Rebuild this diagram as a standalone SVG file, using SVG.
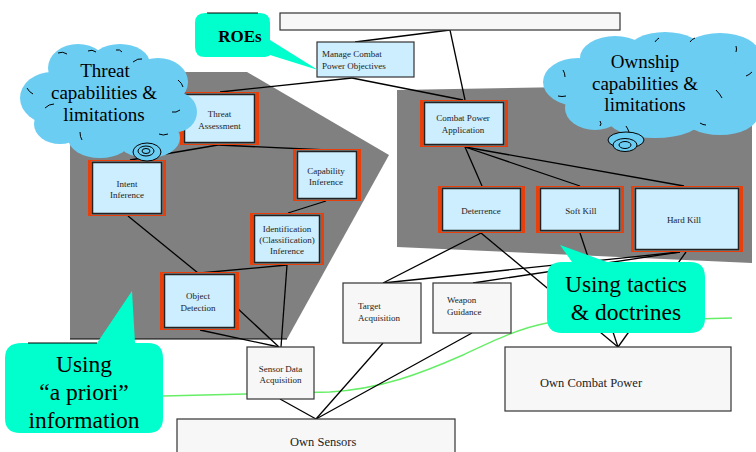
<svg xmlns="http://www.w3.org/2000/svg" width="756" height="452" viewBox="0 0 756 452">
<style>
.gray{fill:#808080}
.ln{stroke:#000;stroke-width:1.3;fill:none}
.red{fill:#e8400c}
.gap{fill:#7a7a7a}
.blue{fill:#cdeefe;stroke:#222;stroke-width:1.5}
.wbox{fill:#f7f7f7;stroke:#333;stroke-width:1.2}
.nt{font-family:"Liberation Serif","Times New Roman",serif;font-size:9px;fill:#222;text-anchor:middle}
.lt{font-family:"Liberation Serif","Times New Roman",serif;font-size:9px;fill:#222}
.bt{font-family:"Liberation Serif","Times New Roman",serif;font-size:12.5px;fill:#222}
.cloud{fill:#6ccdf3}
.arc{stroke:#000;stroke-width:1;fill:none}
.call{fill:#00ffcc}
.ct{font-family:"Liberation Serif","Times New Roman",serif;font-size:23.5px;fill:#000;text-anchor:middle}
.cl{font-family:"Liberation Serif","Times New Roman",serif;font-size:19px;fill:#000;text-anchor:middle}
.green{stroke:#66ee66;stroke-width:1.4;fill:none}
</style>

<g id="regions">
  <polygon class="gray" points="70,72 247,72 389,155 287,339 70,339"/>
  <line x1="70" y1="339" x2="287" y2="339" stroke="#000" stroke-width="1.2"/>
  <polygon class="gray" points="397,90 752,84 752,263 397,247"/>
</g>

<path class="green" d="M163,396 L330,392 C380,389 420,374 463,355 C495,340 520,328 547,323 L732,318"/>

<g id="connectors" class="ln">
  <line x1="450" y1="30" x2="355" y2="42"/>
  <line x1="450" y1="30" x2="465" y2="100"/>
  <line x1="352" y1="78" x2="220" y2="92"/>
  <line x1="352" y1="78" x2="463" y2="100"/>
  <line x1="218" y1="145" x2="130" y2="160"/>
  <line x1="218" y1="145" x2="327" y2="150"/>
  <line x1="128" y1="216" x2="198" y2="273"/>
  <line x1="326" y1="201" x2="288" y2="213"/>
  <line x1="287" y1="265" x2="200" y2="273"/>
  <line x1="287" y1="265" x2="281" y2="347"/>
  <line x1="236" y1="307" x2="279" y2="347"/>
  <line x1="200" y1="330" x2="279" y2="347"/>
  <line x1="280" y1="399" x2="316" y2="419"/>
  <line x1="383" y1="343" x2="316" y2="419"/>
  <line x1="472" y1="333" x2="316" y2="419"/>
  <line x1="465" y1="147" x2="482" y2="186"/>
  <line x1="465" y1="147" x2="580" y2="186"/>
  <line x1="465" y1="147" x2="684" y2="186"/>
  <line x1="481" y1="233" x2="383" y2="283"/>
  <line x1="481" y1="233" x2="618" y2="347"/>
  <line x1="580" y1="233" x2="618" y2="347"/>
  <line x1="686" y1="252" x2="618" y2="347"/>
  <line x1="680" y1="252" x2="383" y2="283"/>
  <line x1="680" y1="252" x2="473" y2="283"/>
</g>

<g id="top-box"><rect class="wbox" x="280" y="13" width="340" height="17"/></g>

<g id="manage-combat">
  <rect x="317" y="42" width="97" height="35" fill="#cdeefe" stroke="#333" stroke-width="1.2"/>
  <text class="lt" x="322" y="57">Manage Combat</text>
  <text class="lt" x="322" y="69">Power Objectives</text>
</g>

<g id="threat-assessment">
  <rect class="red" x="180" y="92" width="79" height="53"/><rect class="gap" x="183" y="93" width="73" height="51"/><rect class="blue" x="184.5" y="94.5" width="70" height="48"/>
  <text class="nt" x="219.5" y="117">Threat</text><text class="nt" x="219.5" y="129">Assessment</text>
</g>
<g id="intent-inference">
  <rect class="red" x="88" y="160" width="78" height="56"/><rect class="gap" x="91" y="161" width="72" height="54"/><rect class="blue" x="92.5" y="162.5" width="69" height="51"/>
  <text class="nt" x="127" y="187">Intent</text><text class="nt" x="127" y="198">Inference</text>
</g>
<g id="capability-inference">
  <rect class="red" x="293" y="149" width="68" height="52"/><rect class="gap" x="296" y="150" width="62" height="50"/><rect class="blue" x="297.5" y="151.5" width="59" height="47"/>
  <text class="nt" x="326" y="174">Capability</text><text class="nt" x="326" y="185">Inference</text>
</g>
<g id="identification-inference">
  <rect class="red" x="250" y="213" width="74" height="52"/><rect class="gap" x="253" y="214" width="68" height="50"/><rect class="blue" x="254.5" y="215.5" width="65" height="47"/>
  <text class="nt" x="287" y="232">Identification</text><text class="nt" x="287" y="243">(Classification)</text><text class="nt" x="287" y="254">Inference</text>
</g>
<g id="object-detection">
  <rect class="red" x="160" y="272" width="79" height="58"/><rect class="gap" x="163" y="273" width="73" height="56"/><rect class="blue" x="164.5" y="274.5" width="70" height="53"/>
  <text class="nt" x="198" y="299">Object</text><text class="nt" x="198" y="311">Detection</text>
</g>
<g id="combat-power-application">
  <rect class="red" x="420" y="100" width="88" height="47"/><rect class="gap" x="423" y="101" width="82" height="45"/><rect class="blue" x="424.5" y="102.5" width="79" height="42"/>
  <text class="nt" x="463" y="121">Combat Power</text><text class="nt" x="463" y="133">Application</text>
</g>
<g id="deterrence">
  <rect class="red" x="438" y="186" width="87" height="47"/><rect class="gap" x="441" y="187" width="81" height="45"/><rect class="blue" x="442.5" y="188.5" width="78" height="42"/>
  <text class="nt" x="481" y="214">Deterrence</text>
</g>
<g id="soft-kill">
  <rect class="red" x="536" y="186" width="88" height="47"/><rect class="gap" x="539" y="187" width="82" height="45"/><rect class="blue" x="540.5" y="188.5" width="79" height="42"/>
  <text class="nt" x="581" y="214">Soft Kill</text>
</g>
<g id="hard-kill">
  <rect class="red" x="631" y="186" width="112" height="66"/><rect class="gap" x="634" y="187" width="106" height="64"/><rect class="blue" x="635.5" y="188.5" width="103" height="61"/>
  <text class="nt" x="684" y="223">Hard Kill</text>
</g>

<g id="target-acquisition">
  <rect class="wbox" x="343" y="283" width="78" height="60"/>
  <text class="lt" x="358" y="309">Target</text><text class="lt" x="358" y="321">Acquisition</text>
</g>
<g id="weapon-guidance">
  <rect class="wbox" x="433" y="283" width="78" height="50"/>
  <text class="lt" x="447" y="303">Weapon</text><text class="lt" x="447" y="315">Guidance</text>
</g>
<g id="sensor-data-acquisition">
  <rect class="wbox" x="247" y="347" width="67" height="52"/>
  <text class="nt" x="280.5" y="372">Sensor Data</text><text class="nt" x="280.5" y="383">Acquisition</text>
</g>
<g id="own-sensors">
  <rect class="wbox" x="177" y="419" width="278" height="40"/>
  <text class="bt" x="290" y="446">Own Sensors</text>
</g>
<g id="own-combat-power">
  <rect class="wbox" x="505" y="347" width="226" height="64"/>
  <text class="bt" x="540" y="387">Own Combat Power</text>
</g>

<g id="threat-cloud">
  <g class="cloud">
    <ellipse cx="52" cy="98" rx="32" ry="26"/>
    <ellipse cx="78" cy="68" rx="30" ry="24"/>
    <ellipse cx="120" cy="64" rx="30" ry="20"/>
    <ellipse cx="158" cy="82" rx="30" ry="24"/>
    <ellipse cx="176" cy="112" rx="21" ry="20"/>
    <ellipse cx="148" cy="138" rx="32" ry="20"/>
    <ellipse cx="100" cy="138" rx="32" ry="20"/>
    <ellipse cx="60" cy="124" rx="26" ry="20"/>
    <ellipse cx="105" cy="100" rx="65" ry="40"/>
  </g>
  <g class="arc">
    <path d="M58,53 q5,-2 9,1"/>
    <path d="M88,51 q4,-2 8,1"/>
    <path d="M116,50 q4,-1 6,2"/>
    <path d="M133,62 q5,-4 9,-3"/>
    <path d="M178,80 q4,3 5,7"/>
    <path d="M180,110 q-4,3 -8,2"/>
    <path d="M168,134 q-5,2 -9,0"/>
    <path d="M80,132 q0,5 2,8"/>
    <path d="M45,108 q4,-4 9,-4"/>
    <path d="M27,88 q2,4 6,6"/>
  </g>
  <g stroke="#000" stroke-width="1" fill="#6ccdf3">
    <ellipse cx="147" cy="152" rx="14" ry="9"/>
    <ellipse cx="146" cy="151" rx="8" ry="5"/>
    <ellipse cx="146" cy="151" rx="4" ry="2.5"/>
  </g>
  <text class="cl" x="105" y="77">Threat</text>
  <text class="cl" x="104" y="99">capabilities &amp;</text>
  <text class="cl" x="104" y="121">limitations</text>
</g>

<g id="ownship-cloud">
  <g class="cloud">
    <ellipse cx="578" cy="82" rx="35" ry="24"/>
    <ellipse cx="615" cy="58" rx="35" ry="22"/>
    <ellipse cx="665" cy="52" rx="38" ry="20"/>
    <ellipse cx="720" cy="55" rx="40" ry="22"/>
    <ellipse cx="748" cy="88" rx="30" ry="28"/>
    <ellipse cx="720" cy="115" rx="38" ry="20"/>
    <ellipse cx="655" cy="118" rx="48" ry="20"/>
    <ellipse cx="595" cy="108" rx="30" ry="22"/>
    <ellipse cx="655" cy="85" rx="85" ry="38"/>
  </g>
  <g class="arc">
    <path d="M563,70 q2,3 2,7"/>
    <path d="M655,42 q1,-2 4,-4"/>
    <path d="M690,42 q2,-3 5,-4"/>
    <path d="M736,46 q1,3 0,6"/>
    <path d="M752,72 q-3,3 -6,4"/>
    <path d="M716,90 q4,4 6,8"/>
    <path d="M700,123 q3,2 6,2"/>
    <path d="M626,126 q2,3 3,6"/>
    <path d="M558,96 q4,1 8,0"/>
    <path d="M600,121 q2,3 0,5"/>
  </g>
  <g stroke="#000" stroke-width="1" fill="#6ccdf3">
    <ellipse cx="626" cy="140" rx="18" ry="8"/>
    <ellipse cx="625" cy="145" rx="12" ry="6.5"/>
    <ellipse cx="625" cy="145" rx="6" ry="3.5"/>
  </g>
  <text class="cl" x="645" y="68">Ownship</text>
  <text class="cl" x="645" y="90">capabilities &amp;</text>
  <text class="cl" x="645" y="111">limitations</text>
</g>

<g id="roes-callout">
  <path class="call" d="M205,13 H260 Q270,13 270,23 V40 L318,70 L270,55 Q268,57 262,57 H205 Q195,57 195,47 V23 Q195,13 205,13 Z"/>
  <line x1="207" y1="13" x2="258" y2="13" stroke="#000" stroke-width="1.2"/>
  <text x="240" y="42" font-family="'Liberation Serif','Times New Roman',serif" font-size="17" font-weight="bold" text-anchor="middle" fill="#000">ROEs</text>
</g>
<g id="a-priori-callout">
  <path class="call" d="M22,343 H97 L132,291 L135,343 H148 Q163,343 163,358 V418 Q163,433 148,433 H20 Q5,433 5,418 V358 Q5,343 22,343 Z"/>
  <line x1="28" y1="343" x2="97" y2="343" stroke="#000" stroke-width="1.2"/>
  <text class="ct" x="84" y="372">Using</text>
  <text class="ct" x="84" y="400">“a priori”</text>
  <text class="ct" x="84" y="428">information</text>
</g>
<g id="tactics-callout">
  <path class="call" d="M562,262 H572 L560,245 L607,262 H690 Q705,262 705,277 V318 Q705,333 690,333 H562 Q547,333 547,318 V277 Q547,262 562,262 Z"/>
  <text class="ct" x="626" y="292">Using tactics</text>
  <text class="ct" x="626" y="320">&amp; doctrines</text>
</g>
</svg>
